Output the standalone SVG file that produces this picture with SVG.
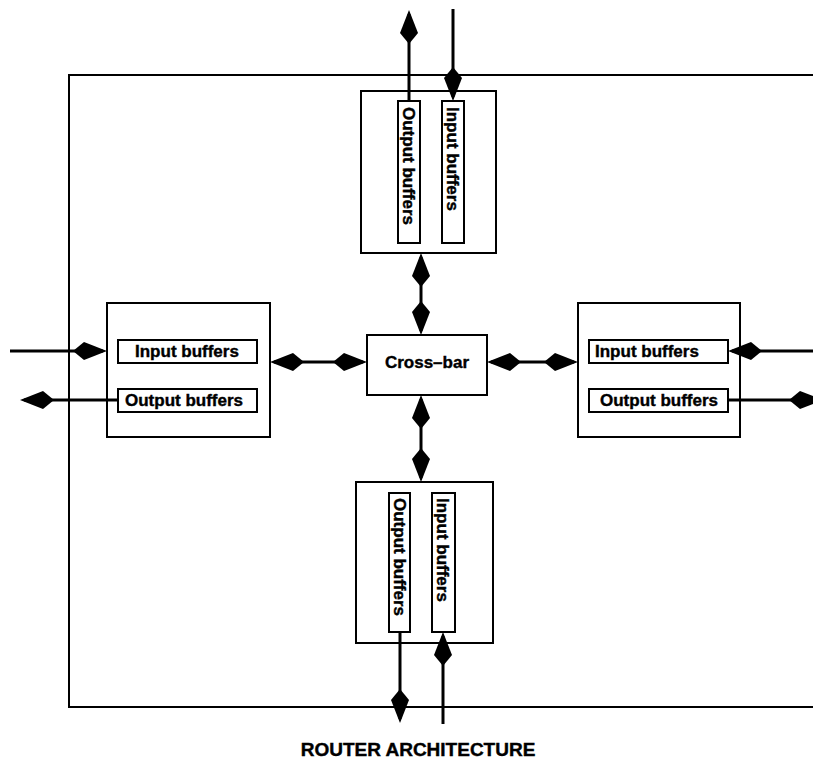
<svg xmlns="http://www.w3.org/2000/svg" width="813" height="761" viewBox="0 0 813 761">
  <style>
    .box { fill: #fff; stroke: #000; stroke-width: 2; }
    .buf { fill: #fff; stroke: #000; stroke-width: 2; }
    .frame { fill: none; stroke: #000; stroke-width: 2; }
    .link { fill: none; stroke: #000; stroke-width: 3; }
    .lbl { font-family: "Liberation Sans", Arial, sans-serif; font-weight: bold; font-size: 17px; fill: #000; stroke: #000; stroke-width: 0.4; }
    .title { font-family: "Liberation Sans", Arial, sans-serif; font-weight: bold; font-size: 19px; fill: #000; stroke: #000; stroke-width: 0.4; }
  </style>
  <defs>
    <!-- kite-shaped arrowhead; its tip sits 4px past the line end so the line never shows at the point -->
    <marker id="kite" markerUnits="userSpaceOnUse" orient="auto-start-reverse" refX="0" refY="0" markerWidth="40" markerHeight="20" overflow="visible">
      <path d="M4,0 L-19,-9 L-30,0 L-19,9 Z" fill="#000"/>
    </marker>
  </defs>

  <rect width="813" height="761" fill="#fff"/>

  <!-- router boundary, open on the right -->
  <g id="router-frame">
    <path class="frame" d="M813,75 H69 V707 H813"/>
  </g>

  <!-- north port -->
  <g id="port-north">
    <rect class="box" x="361" y="91" width="135" height="162"/>
    <rect class="buf" x="398" y="101" width="22" height="142"/>
    <rect class="buf" x="442" y="101" width="22" height="142"/>
    <text class="lbl" transform="translate(409,107) rotate(90)" x="0" y="6">Output buffers</text>
    <text class="lbl" transform="translate(453,107) rotate(90)" x="0" y="6">Input buffers</text>
  </g>

  <!-- west port -->
  <g id="port-west">
    <rect class="box" x="107" y="303" width="163" height="134"/>
    <rect class="buf" x="118" y="340" width="139" height="23"/>
    <rect class="buf" x="118" y="389" width="139" height="23"/>
    <text class="lbl" x="135" y="357">Input buffers</text>
    <text class="lbl" x="125" y="406">Output buffers</text>
  </g>

  <!-- east port -->
  <g id="port-east">
    <rect class="box" x="578" y="303" width="162" height="134"/>
    <rect class="buf" x="589" y="340" width="139" height="23"/>
    <rect class="buf" x="589" y="389" width="139" height="23"/>
    <text class="lbl" x="595" y="357">Input buffers</text>
    <text class="lbl" x="600" y="406">Output buffers</text>
  </g>

  <!-- south port -->
  <g id="port-south">
    <rect class="box" x="356" y="482" width="137" height="161"/>
    <rect class="buf" x="389" y="493" width="21" height="139"/>
    <rect class="buf" x="432" y="493" width="23" height="139"/>
    <text class="lbl" transform="translate(400,498) rotate(90)" x="0" y="6">Output buffers</text>
    <text class="lbl" transform="translate(443,498) rotate(90)" x="0" y="6">Input buffers</text>
  </g>

  <!-- switch fabric -->
  <g id="crossbar">
    <rect class="box" x="367" y="335" width="120" height="60"/>
    <text class="lbl" x="427" y="368" text-anchor="middle">Cross–bar</text>
  </g>

  <!-- links -->
  <g id="connectors">
    <!-- north port external links -->
    <path class="link" d="M409,101 V14" marker-end="url(#kite)"/>
    <path class="link" d="M453,9 V97" marker-end="url(#kite)"/>
    <!-- west port external links -->
    <path class="link" d="M10,351 H103" marker-end="url(#kite)"/>
    <path class="link" d="M118,400 H24" marker-end="url(#kite)"/>
    <!-- east port external links -->
    <path class="link" d="M813,351 H732" marker-end="url(#kite)"/>
    <path class="link" d="M728,400 H819" marker-end="url(#kite)"/>
    <!-- south port external links -->
    <path class="link" d="M400,632 V719" marker-end="url(#kite)"/>
    <path class="link" d="M443,724 V636" marker-end="url(#kite)"/>
    <!-- port to cross-bar links -->
    <path class="link" d="M421,257 V331" marker-start="url(#kite)" marker-end="url(#kite)"/>
    <path class="link" d="M421,399 V478" marker-start="url(#kite)" marker-end="url(#kite)"/>
    <path class="link" d="M274,362 H363" marker-start="url(#kite)" marker-end="url(#kite)"/>
    <path class="link" d="M491,362 H574" marker-start="url(#kite)" marker-end="url(#kite)"/>
  </g>

  <text class="title" x="418" y="756" text-anchor="middle">ROUTER ARCHITECTURE</text>
</svg>
